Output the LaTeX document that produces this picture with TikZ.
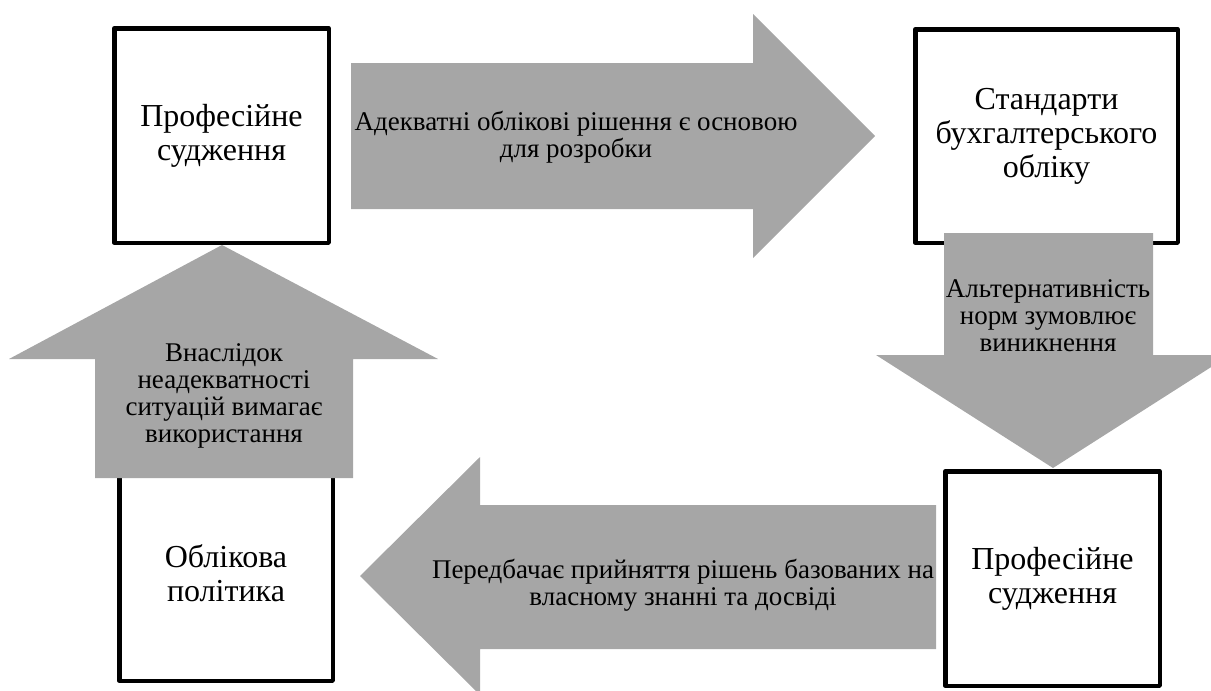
\documentclass[tikz,border=0pt]{standalone}
\usepackage{fontspec}
\setmainfont{Liberation Serif}
\newfontfamily\tnrfont{Liberation Serif}
\definecolor{arrowgray}{RGB}{166,166,166}
\tikzset{
  box/.style={draw=black, line width=4.5pt, line join=round, fill=white, align=center,
    inner sep=0pt, font=\tnrfont\fontsize{32}{34}\selectfont},
  blockarrow/.style={fill=arrowgray, draw=none},
  arrowtext/.style={align=center, inner sep=0pt, font=\tnrfont\fontsize{27}{27}\selectfont},
}
\begin{document}
\begin{tikzpicture}[x=1pt,y=-1pt]
\useasboundingbox (0,0) rectangle (1211,691);
% boxes
\node[box, minimum width=214.5pt, minimum height=214.5pt] (pj1) at (221.5,135.5) {Професійне\\судження};
\node[box, minimum width=262.5pt, minimum height=213.5pt] (std) at (1046.5,136) {Стандарти\\бухгалтерського\\обліку};
\node[box, minimum width=214.5pt, minimum height=214.5pt] (pj2) at (1052.5,578.5) {Професійне\\судження};
\node[box, minimum width=213.5pt, minimum height=214.5pt] (pol) at (226,573.5) {Облікова\\політика};
% block arrows
\fill[blockarrow] (351,63) -- (753,63) -- (753,14) -- (875,136) -- (753,258) -- (753,209) -- (351,209) -- cycle;
\fill[blockarrow] (944,233) -- (1153,233) -- (1153,355) -- (1230,355) -- (1053,468) -- (876,355) -- (944,355) -- cycle;
\fill[blockarrow] (936,505) -- (480,505) -- (480,457) -- (360,576) -- (480,695) -- (480,649) -- (936,649) -- cycle;
\fill[blockarrow] (95,478) -- (95,359) -- (9,359) -- (222,245) -- (438,359) -- (353,359) -- (353,478) -- cycle;
% arrow labels
\node[arrowtext] (t1) at (576,137) {Адекватні облікові рішення є основою\\для розробки};
\node[arrowtext] (t2) at (1048,316) {Альтернативність\\норм зумовлює\\виникнення};
\node[arrowtext] (t3) at (683,585) {Передбачає прийняття рішень базованих на\\власному знанні та досвіді};
\node[arrowtext] (t4) at (224,396) {Внаслідок\\неадекватності\\ситуацій вимагає\\використання};
\end{tikzpicture}
\end{document}
